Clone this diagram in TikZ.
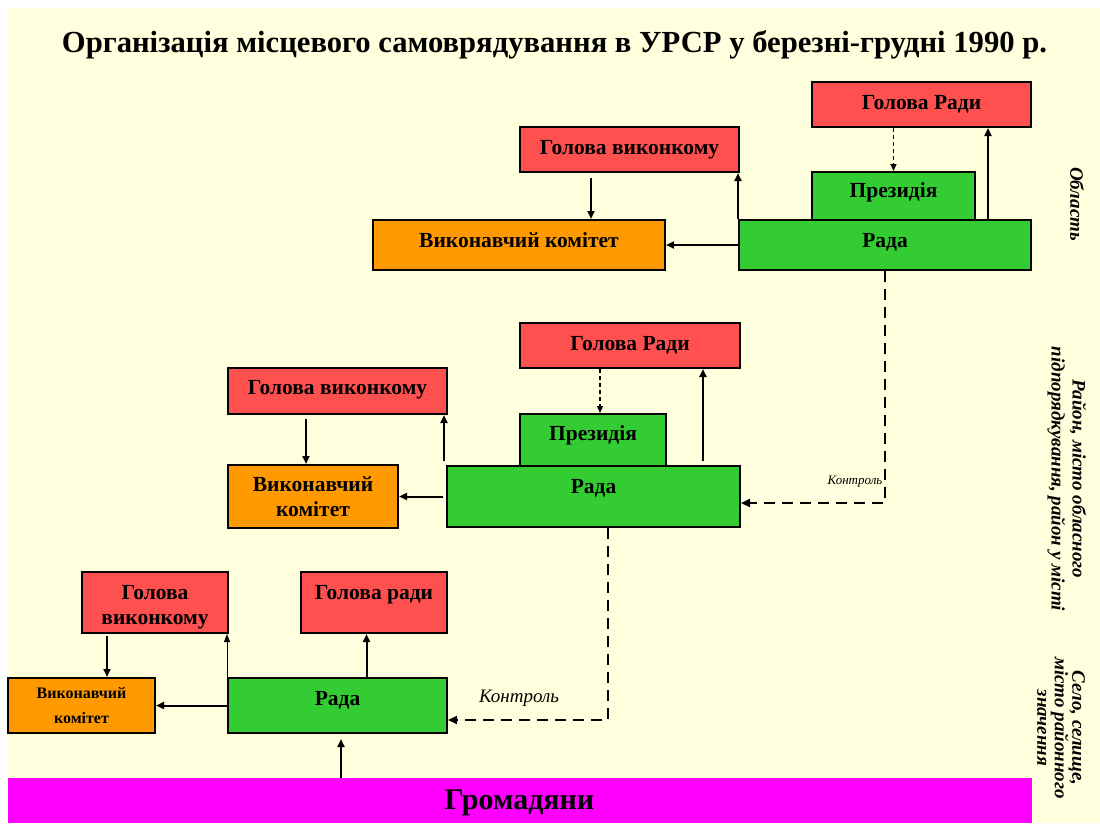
\documentclass[tikz,border=0pt]{standalone}
\usepackage{fontspec}
\setmainfont{Liberation Serif}
\usetikzlibrary{arrows.meta,calc}
\definecolor{bgyellow}{HTML}{FFFFDD}
\definecolor{chairred}{HTML}{FF5050}
\definecolor{councilgreen}{HTML}{33CC33}
\definecolor{execorange}{HTML}{FF9900}
\definecolor{citizenmag}{HTML}{FF00FF}
\begin{document}
\begin{tikzpicture}[x=1pt,y=-1pt,
  box/.style={draw=black,line width=2pt,inner sep=0pt,align=center,
    font=\fontsize{21.5}{25}\selectfont\bfseries},
  redbox/.style={box,fill=chairred},
  greenbox/.style={box,fill=councilgreen},
  orangebox/.style={box,fill=execorange},
  lift/.style={text height=14pt,text depth=#1},
  arr/.style={line width=2pt,-{Triangle[length=8pt,width=7pt]}},
  thinarr/.style={line width=1pt,-{Triangle[length=8pt,width=6pt]}},
  subord/.style={line width=1.2pt,dash pattern=on 4pt off 3pt,-{Triangle[length=7pt,width=6pt]}},
  ctrl/.style={line width=2pt,dash pattern=on 11pt off 7pt,-{Triangle[length=9pt,width=8pt]}},
  ctrllabel/.style={font=\itshape},
  levellabel/.style={rotate=-90,align=center,font=\fontsize{19}{21}\selectfont\bfseries\itshape}
]
% page
\fill[white] (0,0) rectangle (1100,823);
\fill[bgyellow] (8,8) rectangle (1100,823);
\useasboundingbox (0,0) rectangle (1100,823);

% title
\node (title) at (554.5,45) {\resizebox{985pt}{!}{\fontsize{32}{38}\selectfont\bfseries Організація місцевого самоврядування в УРСР у березні-грудні 1990 р.}};

% region level
\node[redbox,minimum width=219pt,minimum height=45pt,lift=5pt] (holR1) at (921.5,104.5) {Голова Ради};
\node[redbox,minimum width=219pt,minimum height=45pt,lift=5pt] (holV1) at (629.5,149.5) {Голова виконкому};
\node[greenbox,minimum width=163pt,minimum height=48pt,lift=12pt] (prez1) at (893.5,196) {Президія};
\node[greenbox,minimum width=292pt,minimum height=50pt,lift=10pt] (rada1) at (885,245) {Рада};
\node[orangebox,minimum width=292pt,minimum height=50pt,lift=10pt] (vk1) at (519,245) {Виконавчий комітет};

\draw[arr] ([xshift=103pt]rada1.north) -- ([xshift=103pt]rada1.north |- holR1.south);
\draw[subord] (holR1.south -| prez1.north) -- (prez1.north);
\draw[arr] (rada1.north west) -- (rada1.north west |- holV1.south);
\draw[arr,shorten <=5pt] ([xshift=72pt]vk1.north |- holV1.south) -- ([xshift=72pt]vk1.north);
\draw[arr] (rada1.west) -- (vk1.east);

% district level
\node[redbox,minimum width=220pt,minimum height=45pt,lift=5pt] (holR2) at (630,345.5) {Голова Ради};
\node[redbox,minimum width=219pt,minimum height=46pt,lift=8pt] (holV2) at (337.5,391) {Голова виконкому};
\node[greenbox,minimum width=146pt,minimum height=52pt,lift=14pt] (prez2) at (593,440) {Президія};
\node[greenbox,minimum width=293pt,minimum height=61pt,lift=21pt] (rada2) at (593.5,496.5) {Рада};
\node[orangebox,minimum width=170pt,minimum height=63pt,align=center] (vk2) at (313,496.5) {Виконавчий\\комітет};

\draw[arr,shorten <=4pt] ([xshift=109.5pt]rada2.north) -- ([xshift=109.5pt]rada2.north |- holR2.south);
\draw[subord] ([xshift=7pt]prez2.north |- holR2.south) -- ([xshift=7pt]prez2.north);
\draw[arr,shorten <=4pt] ([xshift=-2pt]rada2.north west) -- ([xshift=-2pt]rada2.north west |- holV2.south);
\draw[arr,shorten <=4pt] ([xshift=-7pt]vk2.north |- holV2.south) -- ([xshift=-7pt]vk2.north);
\draw[arr,shorten <=3pt] (rada2.west) -- (vk2.east);
\draw[ctrl] (rada1.south) |- ([yshift=-6.5pt]rada2.east);
\node[ctrllabel,font=\fontsize{13}{15}\selectfont\itshape] (ctrl1) at (855,482) {Контроль};

% village level
\node[redbox,minimum width=146pt,minimum height=61pt] (holV3) at (155,602.5)
  {\raisebox{-4pt}[\height][\depth]{\begin{tabular}{@{}c@{}}Голова\\виконкому\end{tabular}}};
\node[redbox,minimum width=146pt,minimum height=61pt,lift=21pt] (holR3) at (374,602.5) {Голова ради};
\node[orangebox,minimum width=147pt,minimum height=55pt,font=\fontsize{16}{25}\selectfont\bfseries] (vk3) at (81.5,705.5) {Виконавчий\\комітет};
\node[greenbox,minimum width=219pt,minimum height=55pt,lift=15pt] (rada3) at (337.5,705.5) {Рада};

\node[fill=citizenmag,minimum width=1024pt,minimum height=45pt,inner sep=0pt] (grom) at (520,800.5) {};
\node[font=\fontsize{30}{36}\selectfont\bfseries] (gromtext) at (519.5,803) {Громадяни};

\draw[arr,shorten <=2pt] ([xshift=25.5pt]vk3.north |- holV3.south) -- ([xshift=25.5pt]vk3.north);
\draw[thinarr] (rada3.north west) -- (rada3.north west |- holV3.south);
\draw[arr] ([xshift=-7.5pt]holR3.south |- rada3.north) -- ([xshift=-7.5pt]holR3.south);
\draw[arr] (rada3.west) -- (vk3.east);
\draw[arr,shorten >=5pt] ([xshift=3.5pt]rada3.south |- grom.north) -- ([xshift=3.5pt]rada3.south);
\draw[ctrl] ([xshift=14.5pt]rada2.south) |- ([yshift=-14.5pt]rada3.east);
\node[ctrllabel,font=\fontsize{19}{22}\selectfont\itshape] (ctrl2) at (519,698) {Контроль};

% level names
\node[levellabel] (lvl1) at (1077,204) {Область};
\node[levellabel] (lvl2) at (1067,479) {Район, місто обласного\\підпорядкування, район у місті};
\node[levellabel,font=\fontsize{19}{17.5}\selectfont\bfseries\itshape] (lvl3) at (1061,728) {Село, селище,\\місто районного\\значення};
\end{tikzpicture}
\end{document}
